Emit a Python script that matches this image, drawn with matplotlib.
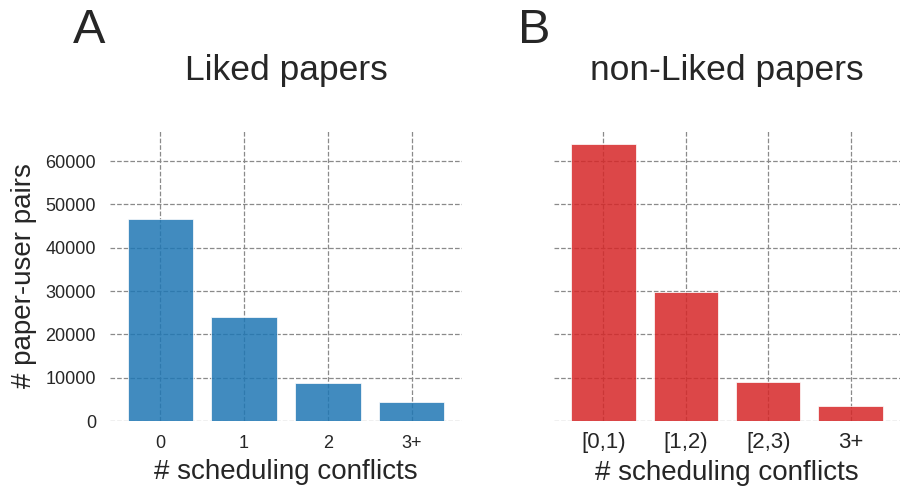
import matplotlib
matplotlib.use('Agg')
import matplotlib.pyplot as plt

liked_labels = ['0', '1', '2', '3+']
liked_counts = [46600, 23950, 8700, 4300]
nonliked_labels = ['[0,1)', '[1,2)', '[2,3)', '3+']
nonliked_counts = [63950, 29850, 9100, 3450]

plt.rcParams['font.family'] = ['Liberation Sans', 'DejaVu Sans']
plt.rcParams['text.color'] = '#262626'
plt.rcParams['axes.labelcolor'] = '#262626'
plt.rcParams['xtick.color'] = '#262626'
plt.rcParams['ytick.color'] = '#262626'

fig = plt.figure(figsize=(9, 4.92), dpi=100)
ax1 = fig.add_axes([110/900, 71/492, 352/900, 291/492])
ax2 = fig.add_axes([554/900, 71/492, 346/900, 291/492], sharey=ax1)


def style(ax, labels, counts, color, title):
    x = range(len(counts))
    ax.bar(x, counts, width=0.78, color=color, alpha=0.85, edgecolor='white', linewidth=0.6)
    ax.set_xticks(list(x))
    ax.set_xticklabels(labels)
    ax.set_xlim(-0.6, 3.6)
    ax.set_ylim(0, 67200)
    ax.set_yticks(range(0, 60001, 10000))
    ax.grid(True, linestyle='--', color='#8a8a8a', linewidth=0.9)
    ax.set_axisbelow(True)
    for s in ax.spines.values():
        s.set_visible(False)
    ax.tick_params(length=0, labelsize=13, pad=10)
    ax.set_xlabel('# scheduling conflicts', fontsize=20, labelpad=5)
    ax.set_title(title, fontsize=25.5, pad=36)


style(ax1, liked_labels, liked_counts, '#1f77b4', 'Liked papers')
style(ax2, nonliked_labels, nonliked_counts, '#d62728', 'non-Liked papers')
ax2.tick_params(axis='x', labelsize=16, pad=8)
ax2.tick_params(axis='y', labelleft=False)
ax1.set_ylabel('# paper-user pairs', fontsize=20, labelpad=6)

fig.text(73/900, 1 - 43/492, 'A', fontsize=35)
fig.text(518/900, 1 - 43/492, 'B', fontsize=35)

fig.savefig('out.png', dpi=100)
